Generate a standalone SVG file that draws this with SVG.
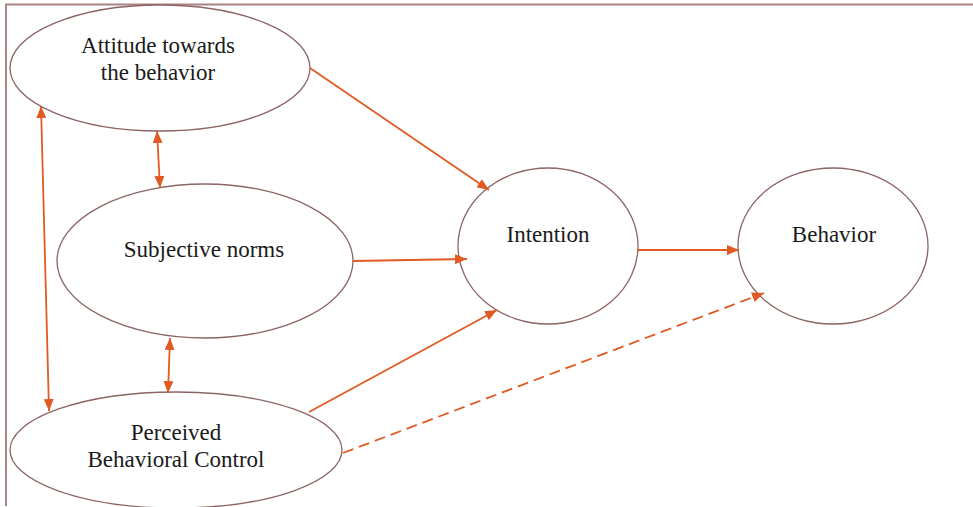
<svg xmlns="http://www.w3.org/2000/svg" width="973" height="507" viewBox="0 0 973 507">
<defs>
<style>
.node ellipse{fill:#fff;stroke:#8C6464;stroke-width:1.3}
.node text{font-family:"Liberation Serif","Times New Roman",serif;font-size:23px;fill:#1a1a1a;text-anchor:middle}
.edge{stroke:#E05A22;stroke-width:1.8;fill:none}
.dash{stroke-dasharray:11 6}
.frame{stroke:#A98282;stroke-width:2;fill:none}
</style>
<marker id="ah" viewBox="0 0 12 10" refX="12" refY="5" markerWidth="12" markerHeight="10" markerUnits="userSpaceOnUse" orient="auto-start-reverse">
<path d="M0,0 L12,5 L0,10 Z" fill="#E05A22"/>
</marker>
</defs>
<rect width="973" height="507" fill="#fff"/>
<path class="frame" d="M6,506 L6,4.5 L973,4.5"/>
<g id="attitude" class="node">
<ellipse cx="160" cy="68" rx="150" ry="63"/>
<text x="158" y="53">Attitude towards</text>
<text x="158" y="80">the behavior</text>
</g>
<g id="subjective" class="node">
<ellipse cx="205" cy="261" rx="148" ry="77"/>
<text x="204" y="257">Subjective norms</text>
</g>
<g id="perceived" class="node">
<ellipse cx="176" cy="450" rx="166" ry="58"/>
<text x="176" y="440">Perceived</text>
<text x="176" y="467">Behavioral Control</text>
</g>
<g id="intention" class="node">
<ellipse cx="548" cy="246" rx="90" ry="78"/>
<text x="548" y="242">Intention</text>
</g>
<g id="behavior" class="node">
<ellipse cx="833" cy="246" rx="95" ry="78"/>
<text x="834" y="242">Behavior</text>
</g>
<g id="connectors">
<line class="edge" x1="310" y1="68" x2="489" y2="190" marker-end="url(#ah)"/>
<line class="edge" x1="353" y1="261" x2="467" y2="259" marker-end="url(#ah)"/>
<line class="edge" x1="309" y1="412" x2="497" y2="310" marker-end="url(#ah)"/>
<line class="edge" x1="637" y1="250" x2="739" y2="250" marker-end="url(#ah)"/>
<line class="edge dash" x1="343" y1="453" x2="764" y2="293" marker-end="url(#ah)"/>
<line class="edge" x1="157" y1="131" x2="160" y2="188" marker-start="url(#ah)" marker-end="url(#ah)"/>
<line class="edge" x1="170" y1="338" x2="168" y2="393" marker-start="url(#ah)" marker-end="url(#ah)"/>
<line class="edge" x1="41" y1="106" x2="49" y2="411" marker-start="url(#ah)" marker-end="url(#ah)"/>
</g>
</svg>
